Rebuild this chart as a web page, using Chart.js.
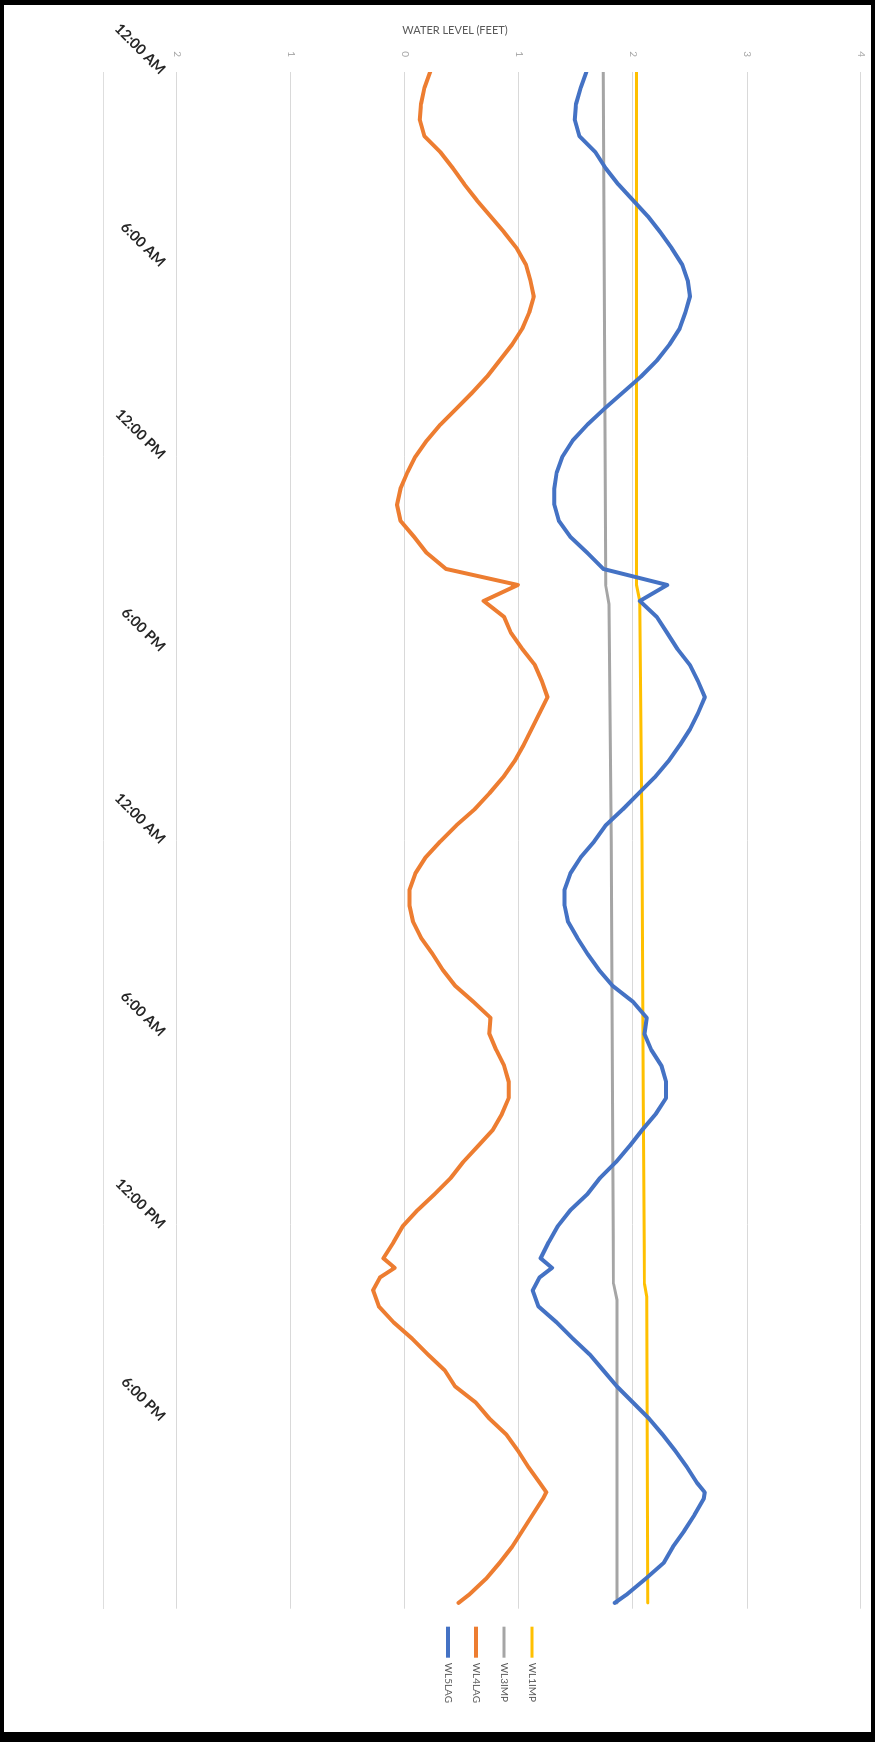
<!DOCTYPE html>
<html>
<head>
<meta charset="utf-8">
<script src="https://cdn.jsdelivr.net/npm/chart.js@4.4.1/dist/chart.umd.min.js"></script>
<style>
  html, body { margin: 0; padding: 0; background: #000; }
  body { width: 875px; height: 1742px; position: relative; overflow: hidden; }
  #frame {
    position: absolute; left: 0; top: 0;
    width: 1727px; height: 867px; background: #fff;
    transform-origin: 0 0;
    transform: translate(871px, 5px) rotate(90deg);
  }
  #axisTitle {
    position: absolute; left: 355px; top: 23px; width: 200px;
    text-align: center; font: 11px Lato, sans-serif; color: #595959;
    z-index: 2;
  }
</style>
</head>
<body>
<div id="frame"><canvas id="waterChart" width="1727" height="867"></canvas></div>
<div id="axisTitle">WATER LEVEL (FEET)</div>
<script>
// hours since the first midnight
const lagHours = [0,0.5,1,1.5,2,2.5,3,3.5,4,4.5,5,5.5,6,6.5,7,7.5,
  8,8.5,9,9.5,10,10.5,11,11.5,12,12.5,13,13.5,14,14.5,15,15.5,
  16,16.5,17,17.5,18,18.5,19,19.5,20,20.5,21,21.5,22,22.5,23,23.5,
  24,24.5,25,25.5,26,26.5,27,27.5,28,28.5,29,29.5,30,30.5,31,31.5,
  32,32.5,33,33.5,34,34.5,35,35.5,36,36.5,37,37.3,37.6,
  38,38.5,39,39.5,40,40.5,41,41.5,42,42.5,43,43.5,44,44.3,
  44.5,45,45.5,46,46.5,47,47.5,47.75];

const wl5lag = [1.59,1.54,1.50,1.49,1.53,1.67,1.76,1.87,2.00,2.13,2.24,2.34,2.43,2.48,2.50,2.46,
  2.41,2.32,2.21,2.07,1.91,1.75,1.60,1.47,1.38,1.33,1.31,1.31,1.35,1.45,1.60,1.74,
  2.30,2.06,2.21,2.30,2.39,2.50,2.57,2.63,2.57,2.50,2.41,2.31,2.19,2.05,1.91,1.76,
  1.66,1.54,1.45,1.40,1.40,1.43,1.51,1.60,1.70,1.82,2.00,2.12,2.10,2.16,2.25,2.29,
  2.29,2.20,2.08,1.97,1.85,1.71,1.60,1.45,1.34,1.26,1.19,1.29,1.18,
  1.12,1.17,1.33,1.47,1.62,1.74,1.86,2.00,2.14,2.26,2.37,2.47,2.56,2.63,
  2.62,2.54,2.45,2.35,2.27,2.11,1.94,1.84];

const wl4lag = [0.22,0.17,0.14,0.13,0.17,0.31,0.42,0.52,0.63,0.75,0.87,0.98,1.06,1.10,1.13,1.09,
  1.03,0.94,0.83,0.72,0.59,0.45,0.31,0.19,0.09,0.02,-0.04,-0.07,-0.04,0.08,0.19,0.36,
  0.99,0.69,0.87,0.93,1.03,1.14,1.20,1.25,1.18,1.11,1.04,0.96,0.86,0.74,0.61,0.45,
  0.31,0.18,0.09,0.04,0.04,0.07,0.14,0.24,0.33,0.44,0.60,0.75,0.74,0.80,0.87,0.91,
  0.91,0.85,0.77,0.64,0.51,0.40,0.26,0.11,-0.02,-0.10,-0.19,-0.09,-0.22,
  -0.28,-0.23,-0.10,0.06,0.20,0.35,0.44,0.62,0.74,0.89,0.99,1.08,1.18,1.24,
  1.21,1.12,1.03,0.94,0.83,0.71,0.56,0.47];

const wl3Hours = [0,8,16,16.6,24,32,37.8,38.3,47.75];
const wl3imp = [1.74,1.75,1.76,1.79,1.81,1.82,1.83,1.86,1.86];

const wl1Hours = [0,16,16.5,24,32,37.8,38.2,47.75];
const wl1imp = [2.03,2.03,2.06,2.08,2.09,2.10,2.12,2.13];

const timeLabels = ['12:00 AM','6:00 AM','12:00 PM','6:00 PM','12:00 AM','6:00 AM','12:00 PM','6:00 PM'];
const levelLabels = ['2','1','0','1','2','3','4'];

function points(xs, ys) {
  return xs.map((x, i) => ({ x: x, y: ys[i] }));
}

const ctx = document.getElementById('waterChart').getContext('2d');
const waterChart = new Chart(ctx, {
  type: 'line',
  data: {
    datasets: [
      { label: 'WL5LAG', data: points(lagHours, wl5lag), borderColor: '#4472C4', backgroundColor: '#4472C4', borderWidth: 4 },
      { label: 'WL4LAG', data: points(lagHours, wl4lag), borderColor: '#ED7D31', backgroundColor: '#ED7D31', borderWidth: 4 },
      { label: 'WL3IMP', data: points(wl3Hours, wl3imp), borderColor: '#A5A5A5', backgroundColor: '#A5A5A5', borderWidth: 3 },
      { label: 'WL1IMP', data: points(wl1Hours, wl1imp), borderColor: '#FFC000', backgroundColor: '#FFC000', borderWidth: 3 }
    ]
  },
  options: {
    responsive: false,
    animation: false,
    devicePixelRatio: 1,
    elements: {
      point: { radius: 0 },
      line: { tension: 0, borderCapStyle: 'round', borderJoinStyle: 'round' }
    },
    layout: { padding: { left: 0, right: 19, top: 10, bottom: 0 } },
    scales: {
      x: {
        type: 'linear',
        min: 0,
        max: 47.93,
        weight: 0,
        grid: { display: false, drawTicks: false },
        border: { display: false },
        afterFit: function (scale) { scale.height = 73; },
        ticks: {
          stepSize: 6,
          autoSkip: false,
          includeBounds: false,
          minRotation: 45,
          maxRotation: 45,
          padding: 8,
          color: '#262626',
          font: { family: 'Lato', size: 14.5, weight: 'bold' },
          callback: function (v) { return timeLabels[Math.round(v / 6)]; }
        }
      },
      // outer axis only supplies the faint axis line beyond the time labels
      xEdge: {
        type: 'linear',
        position: 'bottom',
        display: true,
        weight: 1,
        min: 0,
        max: 1,
        grid: { display: false, drawTicks: false },
        border: { display: true, color: '#dedede', width: 1 },
        ticks: { display: false },
        afterFit: function (scale) { scale.height = 100; }
      },
      y: {
        min: -2,
        max: 4,
        grid: { color: '#d9d9d9', lineWidth: 1, drawTicks: false },
        border: { display: false },
        afterFit: function (scale) {
          scale.width = 67;
          scale.paddingTop = 0;
          scale.paddingBottom = 0;
        },
        ticks: {
          stepSize: 1,
          padding: 15,
          color: '#a6a6a6',
          font: { family: 'Lato', size: 10 },
          callback: function (v, i) { return levelLabels[i]; }
        }
      }
    },
    plugins: {
      legend: {
        position: 'right',
        align: 'start',
        reverse: true,
        title: { display: true, text: '', padding: { top: 291.6, bottom: 0 } },
        labels: {
          usePointStyle: true,
          pointStyle: 'line',
          pointStyleWidth: 31,
          padding: 18,
          color: '#595959',
          font: { family: 'Lato', size: 10 }
        }
      },
      tooltip: { enabled: false }
    }
  }
});
</script>
</body>
</html>
